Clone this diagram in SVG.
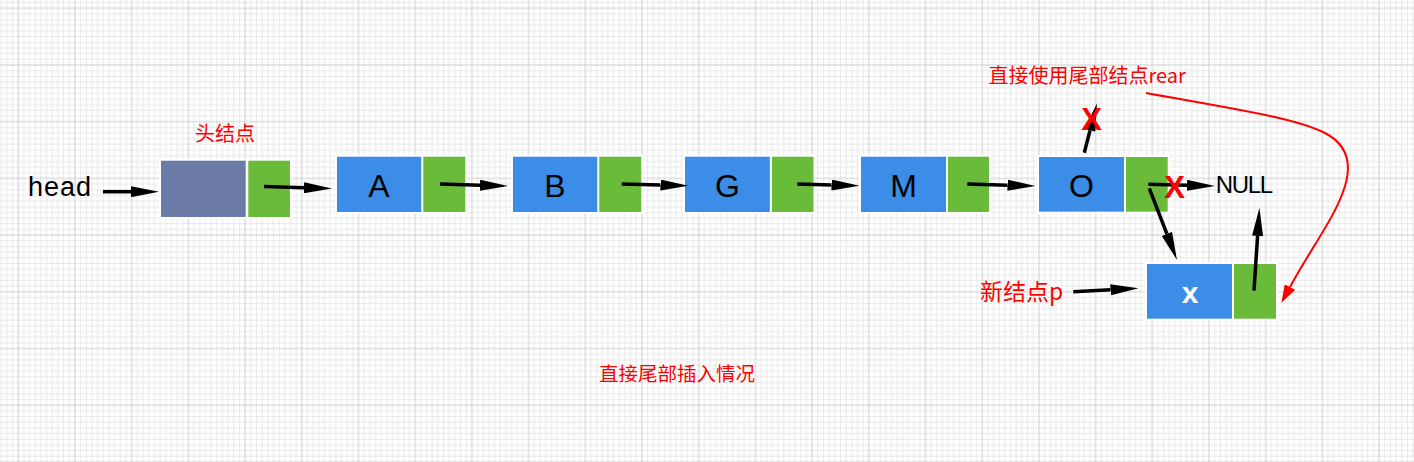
<svg xmlns="http://www.w3.org/2000/svg" width="1414" height="462" viewBox="0 0 1414 462">
<defs>
<pattern id="grid" patternUnits="userSpaceOnUse" x="17.3" y="7.3" width="56.7" height="56.7">
<path d="M6.67,0V56.7M12.34,0V56.7M18.01,0V56.7M23.68,0V56.7M29.35,0V56.7M35.02,0V56.7M40.69,0V56.7M46.36,0V56.7M52.03,0V56.7M0,6.67H56.7M0,12.34H56.7M0,18.01H56.7M0,23.68H56.7M0,29.35H56.7M0,35.02H56.7M0,40.69H56.7M0,46.36H56.7M0,52.03H56.7" stroke="#e8e8e8" stroke-width="1" fill="none"/>
<path d="M1,0V56.7M0,1H56.7" stroke="#cdcdcd" stroke-width="1" fill="none"/>
</pattern>
<marker id="ah" markerUnits="userSpaceOnUse" viewBox="0 0 28 11" refX="0" refY="5.5" markerWidth="28" markerHeight="11" orient="auto">
<path d="M0,0 L28,5.5 L0,11 Z" fill="#000"/>
</marker>
<marker id="ahr" markerUnits="userSpaceOnUse" viewBox="0 0 18 12" refX="0" refY="6" markerWidth="18" markerHeight="12" orient="auto">
<path d="M0,0 L18,6 L0,12 Z" fill="#ff0000"/>
</marker>
<style>
.bk{fill:#fff}
.bl{fill:#3c8de8}
.gr{fill:#6abb39}
.hd{fill:#6b7aa6}
.lt{font-family:"Liberation Sans",Arial,sans-serif;font-size:32px;fill:#000;text-anchor:middle}
.rd{font-family:"Noto Sans CJK SC",sans-serif;font-size:20px;fill:#ff0000}
.xm{font-family:"Liberation Sans",Arial,sans-serif;font-size:31px;font-weight:bold;fill:#ff0000;text-anchor:middle}
.ar{stroke:#000;stroke-width:3.5;fill:none;marker-end:url(#ah)}
</style>
</defs>
<rect width="1414" height="462" fill="#fff"/>
<rect width="1414" height="462" fill="url(#grid)"/>

<g id="head-label">
<text x="28" y="196" font-family="Liberation Sans, Arial, sans-serif" font-size="27" textLength="63" fill="#000">head</text>
</g>
<g id="head-node">
<rect class="bk" x="159" y="158.7" width="133" height="60.3"/>
<rect class="hd" x="161" y="160.7" width="84.7" height="56.3"/>
<rect class="gr" x="248.3" y="160.7" width="41.7" height="56.3"/>
<text class="rd" x="195" y="141">头结点</text>
</g>
<g id="node-A">
<rect class="bk" x="335" y="154.7" width="132.3" height="59.3"/>
<rect class="bl" x="337" y="156.7" width="84.3" height="55.3"/>
<rect class="gr" x="423.3" y="156.7" width="42" height="55.3"/>
<text class="lt" x="379" y="196.5">A</text>
</g>
<g id="node-B">
<rect class="bk" x="511" y="154.7" width="132.3" height="59.3"/>
<rect class="bl" x="513" y="156.7" width="84.3" height="55.3"/>
<rect class="gr" x="599.3" y="156.7" width="42" height="55.3"/>
<text class="lt" x="555" y="196.5">B</text>
</g>
<g id="node-G">
<rect class="bk" x="683" y="154.7" width="132.3" height="59.3"/>
<rect class="bl" x="685" y="156.7" width="84.8" height="55.3"/>
<rect class="gr" x="772" y="156.7" width="41.5" height="55.3"/>
<text class="lt" x="727.5" y="196.5">G</text>
</g>
<g id="node-M">
<rect class="bk" x="859" y="154.7" width="132" height="59.3"/>
<rect class="bl" x="861" y="156.7" width="85" height="55.3"/>
<rect class="gr" x="948" y="156.7" width="41" height="55.3"/>
<text class="lt" x="903.5" y="196.5">M</text>
</g>
<g id="node-O">
<rect class="bk" x="1037" y="155" width="132.7" height="58.7"/>
<rect class="bl" x="1039" y="157" width="85" height="54.7"/>
<rect class="gr" x="1126" y="157" width="41.7" height="54.7"/>
<text class="lt" x="1081.5" y="196.5">O</text>
</g>
<g id="null-label">
<text x="1215.7" y="192.7" font-family="Liberation Sans, Arial, sans-serif" font-size="24" textLength="57.5" fill="#000">NULL</text>
</g>
<g id="node-x">
<rect class="bk" x="1145" y="262" width="133" height="58.7"/>
<rect class="bl" x="1147" y="264" width="85" height="54.7"/>
<rect class="gr" x="1234" y="264" width="42" height="54.7"/>
<text x="1190" y="303" font-family="Liberation Sans, Arial, sans-serif" font-size="30" font-weight="bold" fill="#fff" text-anchor="middle">x</text>
</g>
<g id="new-node-label">
<text class="rd" x="980" y="300" style="font-size:23px">新结点p</text>
</g>
<g id="rear-label">
<text class="rd" x="988.5" y="83">直接使用尾部结点rear</text>
</g>
<g id="caption">
<text class="rd" x="599" y="380.5" style="font-size:19.5px">直接尾部插入情况</text>
</g>

<g id="connectors">
<path class="ar" d="M103,191.7 L131,191.7"/>
<path class="ar" d="M264,186.5 L304,187.7"/>
<path class="ar" d="M440,184 L480,185.2"/>
<path class="ar" d="M621.7,184 L660.5,185.05"/>
<path class="ar" d="M797.3,184 L831.5,185"/>
<path class="ar" d="M967.3,184 L1007.5,185.2"/>
<path class="ar" d="M1148.3,184.3 L1187,185.3"/>
<path class="ar" d="M1149.3,188.3 L1166.9,233.9"/>
<path class="ar" d="M1254,290.7 L1257.6,235.9"/>
<path class="ar" d="M1084.3,152.7 L1090,130.4"/>
<path class="ar" d="M1073.3,291.7 L1110.5,289.8"/>
<path d="M1146,93 C1240,110 1295,118 1325,133 C1350,146 1352,168 1343,192 C1333,220 1310,250 1290,287" stroke="#ff0000" stroke-width="2" fill="none" marker-end="url(#ahr)"/>
</g>
<g id="cross-marks">
<text class="xm" x="1091.7" y="130">X</text>
<text class="xm" x="1174.5" y="198.3">X</text>
</g>
</svg>
